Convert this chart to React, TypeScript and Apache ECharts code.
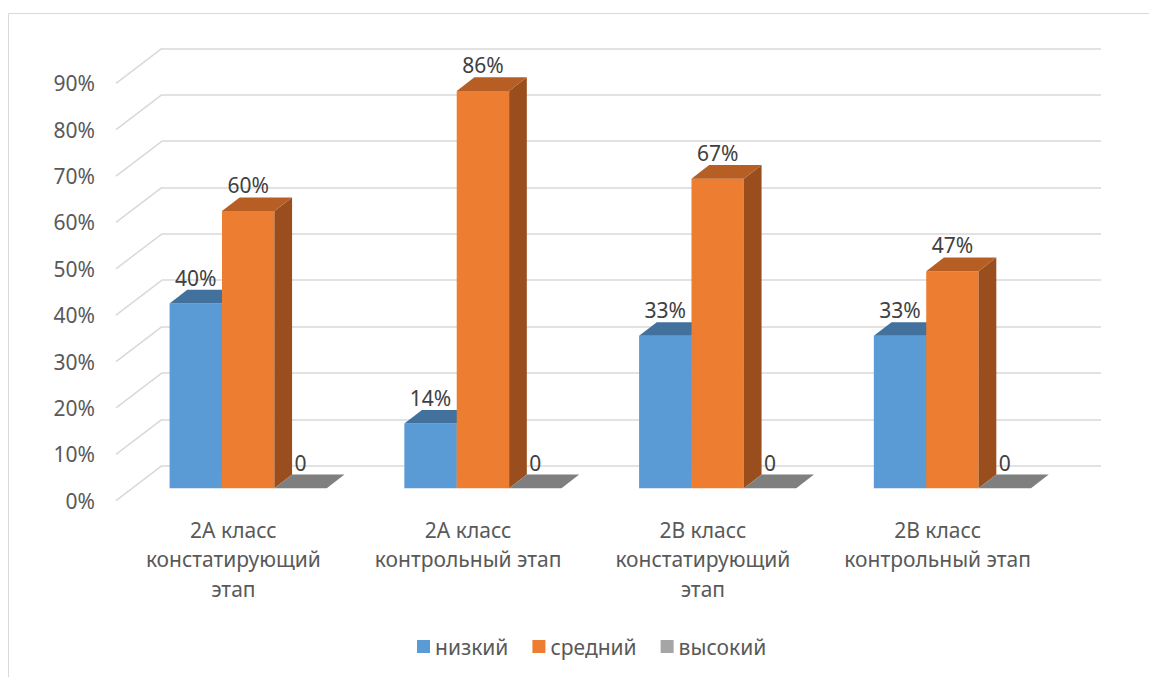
import React, { useEffect, useRef } from "react";
import * as echarts from "echarts";

const categories = [
  "2А класс\nконстатирующий\nэтап",
  "2А класс\nконтрольный этап",
  "2В класс\nконстатирующий\nэтап",
  "2В класс\nконтрольный этап",
];
const seriesNames = ["низкий", "средний", "высокий"];
const lowValues = [0.4, 0.14, 0.33, 0.33];
const midValues = [0.6, 0.86, 0.67, 0.47];
const highValues = [0, 0, 0, 0];
const yTicks = [0, 0.1, 0.2, 0.3, 0.4, 0.5, 0.6, 0.7, 0.8, 0.9];

const FONT = "'Noto Sans', 'DejaVu Sans', sans-serif";
const FS = 21;
const GRID_COLOR = "#D9D9D9";
const TEXT_COLOR = "#595959";

const palette = [
  { legend: "#5B9BD5", front: "#5B9BD5", top: "#41719C", side: "#3E6C96" },
  { legend: "#ED7D31", front: "#ED7D31", top: "#B65E23", side: "#9B4E1D" },
  { legend: "#A5A5A5", front: "#A5A5A5", top: "#7F7F7F", side: "#7A7A7A" },
];

const DX = 17.7;
const DY = 13.7;

function fmt(v: number): string {
  return v === 0 ? "0" : Math.round(v * 100) + "%";
}

function makeBarSeries(k: number, values: number[]) {
  const c = palette[k];
  return {
    type: "custom",
    name: seriesNames[k],
    xAxisIndex: 2,
    yAxisIndex: 2,
    itemStyle: { color: c.legend },
    data: values.map((v, i) => [i, v]),
    renderItem: (params: any, api: any) => {
      const cat = api.value(0);
      const v = api.value(1);
      const base = api.coord([cat, 0]);
      const top = api.coord([cat, v]);
      const band = api.size([1, 0])[0];
      const bw = band * 0.2232;
      const x0 = base[0] + (k - 1.5) * bw - 1.5;
      const x1 = x0 + bw;
      const children: any[] = [];
      if (v > 0) {
        children.push({
          type: "rect",
          shape: { x: x0, y: top[1], width: bw, height: base[1] - top[1] },
          style: { fill: c.front },
        });
        children.push({
          type: "polygon",
          shape: {
            points: [
              [x1, base[1]],
              [x1 + DX, base[1] - DY],
              [x1 + DX, top[1] - DY],
              [x1, top[1]],
            ],
          },
          style: { fill: c.side },
        });
      }
      children.push({
        type: "polygon",
        shape: {
          points: [
            [x0, top[1]],
            [x0 + DX, top[1] - DY],
            [x1 + DX, top[1] - DY],
            [x1, top[1]],
          ],
        },
        style: { fill: c.top },
      });
      children.push({
        type: "text",
        x: x0 + bw / 2,
        y: top[1] - DY - 12,
        style: {
          text: fmt(v),
          fill: "#404040",
          font: `${FS}px ${FONT}`,
          align: "center",
          verticalAlign: "middle",
        },
      });
      return { type: "group", children };
    },
  };
}

export default function App() {
  const ref = useRef<HTMLDivElement>(null);
  useEffect(() => {
    document.body.style.margin = "0";
    const chart = echarts.init(ref.current!, undefined, { renderer: "svg" });
    const hiddenCat = {
      type: "category",
      data: categories,
      show: false,
    };
    const option: any = {
      animation: false,
      backgroundColor: "#ffffff",
      textStyle: { fontFamily: FONT },
      graphic: [
        {
          type: "rect",
          shape: { x: 8.5, y: 13.5, width: 1200, height: 700 },
          style: { fill: "none", stroke: GRID_COLOR, lineWidth: 1 },
          silent: true,
        },
      ],
      legend: {
        data: seriesNames,
        left: 412,
        top: 631,
        icon: "rect",
        itemWidth: 13,
        itemHeight: 13,
        itemGap: 24,
        textStyle: { fontSize: FS, color: TEXT_COLOR, fontFamily: FONT },
      },
      grid: [
        { left: 162, top: 48.3, width: 939, height: 417.4 },
        { left: 116, top: 83.3, width: 939, height: 417.4 },
        { left: 132.3, top: 72.5, width: 939, height: 415.8 },
      ],
      xAxis: [
        { ...hiddenCat, gridIndex: 0 },
        {
          type: "category",
          data: categories,
          gridIndex: 1,
          axisLine: { show: false },
          axisTick: { show: false },
          axisLabel: {
            interval: 0,
            margin: 14.5,
            fontSize: FS,
            lineHeight: 29.5,
            color: TEXT_COLOR,
            fontFamily: FONT,
          },
        },
        { ...hiddenCat, gridIndex: 2 },
      ],
      yAxis: [
        {
          type: "value",
          gridIndex: 0,
          min: 0,
          max: 0.9,
          interval: 0.1,
          axisLabel: { show: false },
          axisLine: { show: false },
          axisTick: { show: false },
          splitLine: { show: true, lineStyle: { color: GRID_COLOR, width: 1.5 } },
        },
        {
          type: "value",
          gridIndex: 1,
          min: 0,
          max: 0.9,
          interval: 0.1,
          axisLine: { show: false },
          axisTick: { show: false },
          splitLine: { show: false },
          axisLabel: {
            margin: 21,
            fontSize: FS,
            color: TEXT_COLOR,
            fontFamily: FONT,
            formatter: (v: number) => Math.round(v * 100) + "%",
          },
        },
        {
          type: "value",
          gridIndex: 2,
          min: 0,
          max: 0.9,
          interval: 0.1,
          show: false,
          splitLine: { show: false },
        },
      ],
      series: [
        {
          type: "custom",
          name: "wall",
          xAxisIndex: 0,
          yAxisIndex: 0,
          silent: true,
          data: yTicks.map((t) => [0, t]),
          renderItem: (params: any, api: any) => {
            const p = api.coord([0, api.value(1)]);
            const band = api.size([1, 0])[0];
            const x0 = p[0] - band / 2;
            return {
              type: "line",
              shape: { x1: x0, y1: p[1], x2: x0 - 46, y2: p[1] + 35 },
              style: { stroke: GRID_COLOR, lineWidth: 1.5 },
            };
          },
        },
        makeBarSeries(0, lowValues),
        makeBarSeries(1, midValues),
        makeBarSeries(2, highValues),
      ],
    };
    chart.setOption(option);
    return () => chart.dispose();
  }, []);
  return (
    <div
      ref={ref}
      style={{ position: "fixed", left: 0, top: 0, width: 1149, height: 677 }}
    />
  );
}
